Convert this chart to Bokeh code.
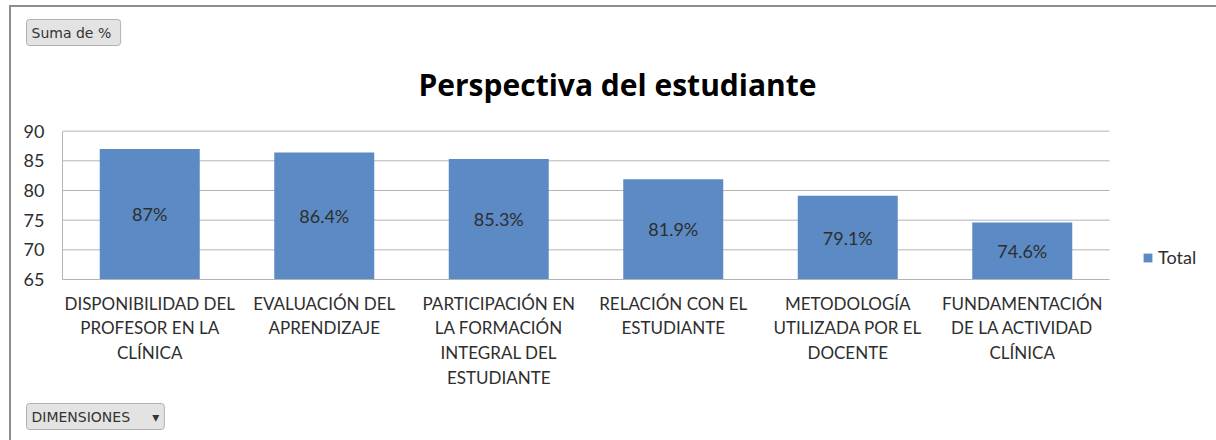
from bokeh.plotting import figure
from bokeh.models import (Range1d, ColumnDataSource, LabelSet, Label, Title,
                          Legend, LegendItem, FixedTicker, InlineStyleSheet)
from bokeh.core.properties import value
from bokeh.embed import file_html
from bokeh.resources import INLINE

# ---- data ----
categories = [
    "DISPONIBILIDAD DEL\nPROFESOR EN LA\nCLÍNICA",
    "EVALUACIÓN DEL\nAPRENDIZAJE",
    "PARTICIPACIÓN EN\nLA FORMACIÓN\nINTEGRAL DEL\nESTUDIANTE",
    "RELACIÓN CON EL\nESTUDIANTE",
    "METODOLOGÍA\nUTILIZADA POR EL\nDOCENTE",
    "FUNDAMENTACIÓN\nDE LA ACTIVIDAD\nCLÍNICA",
]
values = [87, 86.4, 85.3, 81.9, 79.1, 74.6]
y_ticks = [65, 70, 75, 80, 85, 90]
title_text = "Perspectiva del estudiante"
series_name = "Total"
field_button = "Suma de %\u00A0"
axis_button = "DIMENSIONES\u00A0\u00A0\u00A0\u00A0\u00A0\u25BE"

FONT = "Lato"
BAR = "#5B8AC4"
GRID = "#B4B4B4"
TXT = "#2E2E2E"

# ---- layout geometry (pixels) ----
W, H = 1216, 440
LEFT, TOP, BOTTOM = 62, 50, 160          # borders around the drawing area
PLOT_RIGHT, PLOT_TOP = 1109, 131         # edge of the category area / top of value axis
frame_w = W - LEFT
frame_h = H - TOP - BOTTOM
n = len(categories)
y0, y1 = y_ticks[0], y_ticks[-1]
x_end = n * frame_w / (PLOT_RIGHT - LEFT)
y_end = y0 + (y1 - y0) * frame_h / (H - BOTTOM - PLOT_TOP)

p = figure(width=W, height=H, x_range=Range1d(0, x_end), y_range=Range1d(y0, y_end),
           output_backend="svg", toolbar_location=None,
           min_border_left=LEFT, min_border_right=0, min_border_top=TOP,
           min_border_bottom=BOTTOM)
p.outline_line_color = None
p.background_fill_color = "white"
p.border_fill_color = "white"
p.stylesheets = [InlineStyleSheet(css="""
:host::after { content: ""; position: absolute; left: 9px; top: 5px; right: 0px; bottom: 0px;
  border-left: 2px solid #8E8E8E; border-top: 2px solid #8E8E8E; pointer-events: none; }
""")]

xpos = [i + 0.5 for i in range(n)]
src = ColumnDataSource(dict(
    x=xpos, val=values,
    mid=[(v + y0) / 2 for v in values],
    lab=[f"{v:g}%" for v in values],
))

# horizontal gridlines limited to the category area
p.segment(x0=[0] * len(y_ticks), x1=[n] * len(y_ticks), y0=y_ticks, y1=y_ticks,
          line_color=GRID, line_width=1)

r = p.vbar(x="x", top="val", bottom=y0, width=0.573, source=src,
           fill_color=BAR, line_color=None)

# axes
p.xgrid.visible = False
p.ygrid.visible = False

p.yaxis.ticker = FixedTicker(ticks=y_ticks)
p.yaxis.bounds = (y0, y1)
p.yaxis.major_tick_line_color = None
p.yaxis.minor_tick_line_color = None
p.yaxis.axis_line_color = GRID
p.yaxis.major_label_text_font = FONT
p.yaxis.major_label_text_font_size = "18px"
p.yaxis.major_label_text_color = TXT
p.yaxis.major_label_standoff = 12

p.xaxis.ticker = FixedTicker(ticks=xpos)
p.xaxis.major_label_overrides = {x: c for x, c in zip(xpos, categories)}
p.xaxis.bounds = (0, n)
p.xaxis.major_tick_line_color = None
p.xaxis.minor_tick_line_color = None
p.xaxis.axis_line_color = GRID
p.xaxis.major_label_text_font = FONT
p.xaxis.major_label_text_font_size = "17px"
p.xaxis.major_label_text_color = TXT
p.xaxis.major_label_text_line_height = 1.18
p.xaxis.major_label_standoff = 7

# value labels
p.add_layout(LabelSet(x="x", y="mid", text="lab", source=src,
                      text_align="center", text_baseline="middle",
                      text_font=value(FONT), text_font_size=value("18px"),
                      text_color=TXT))

# chart title
p.add_layout(Label(x=617 - LEFT, y=H - BOTTOM - 85, x_units="screen", y_units="screen",
                   text=title_text, text_align="center", text_baseline="middle",
                   text_font="Open Sans", text_font_style="bold",
                   text_font_size="30px", text_color="black"))

# pivot field buttons
p.add_layout(Title(text=field_button, align="left", offset=-36, vertical_align="bottom",
                   standoff=10, text_font="DejaVu Sans", text_font_size="14px",
                   text_font_style="normal", text_color="#333333",
                   background_fill_color="#E3E3E3", border_line_color="#B0B0B0",
                   padding=5, border_radius=3), "above")
p.add_layout(Title(text=axis_button, align="left", offset=-36, vertical_align="bottom",
                   standoff=22, text_font="DejaVu Sans", text_font_size="14px",
                   text_font_style="normal", text_color="#333333",
                   background_fill_color="#E3E3E3", border_line_color="#B0B0B0",
                   padding=5, border_radius=3), "below")

# legend
legend = Legend(items=[LegendItem(label=series_name, renderers=[r])],
                location=(1142 - LEFT, 11), orientation="vertical",
                padding=0, margin=0, spacing=0, label_standoff=5,
                glyph_width=11, glyph_height=11, label_height=11,
                label_text_font=FONT, label_text_font_size="18px",
                label_text_color=TXT, label_text_baseline="middle",
                border_line_alpha=0, background_fill_alpha=0)
p.add_layout(legend, "center")

open("out.html", "w").write(file_html(p, INLINE))
